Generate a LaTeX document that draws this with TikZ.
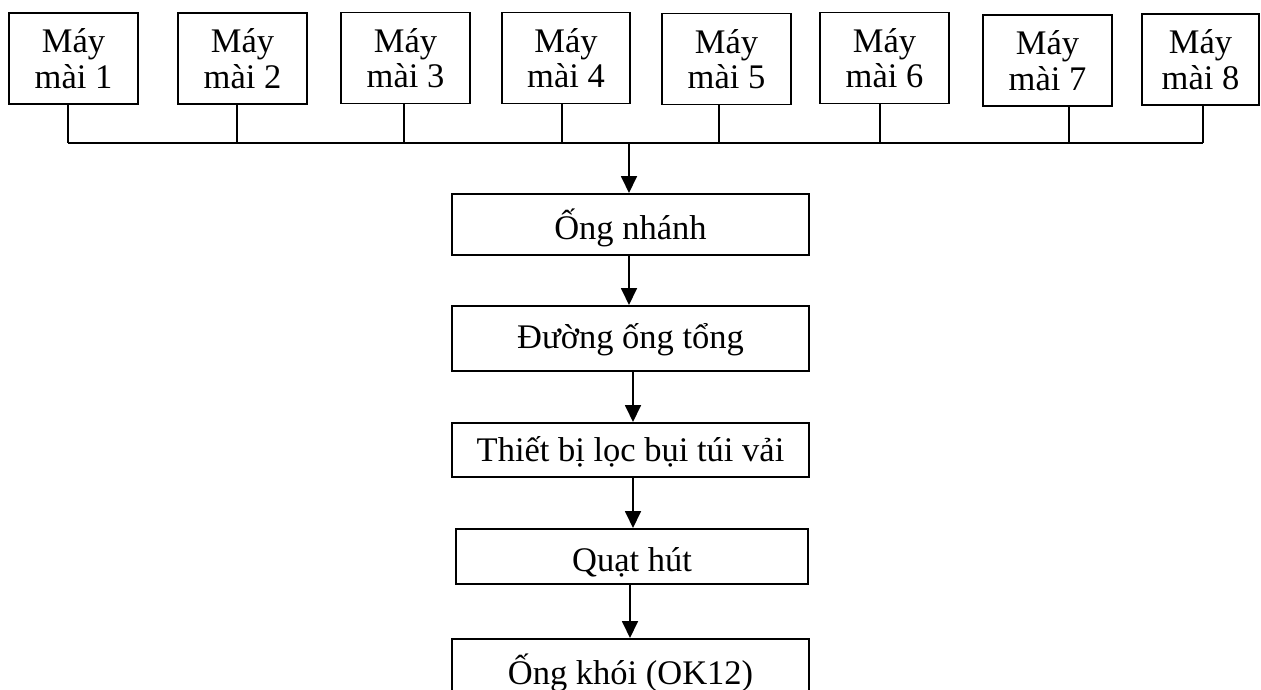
\documentclass[tikz,border=0pt]{standalone}
\usepackage{fontspec}
\setmainfont{Liberation Serif}
\usetikzlibrary{arrows.meta}

\begin{document}
\begin{tikzpicture}[x=1pt,y=-1pt,
  line width=1.8pt,
  font=\fontsize{34.5}{35.5}\selectfont,
  machine/.style={draw, rectangle, align=center, inner sep=0pt,
    minimum width=129pt, minimum height=91pt,
    execute at begin node={\rule{0pt}{33pt}}},
  stage/.style={draw, rectangle, anchor=north, inner xsep=0pt, inner ysep=0pt},
  flow/.style={-{Triangle[length=17pt,width=16pt]}}
]
\useasboundingbox (0,0) rectangle (1261,689);
\clip (0,0) rectangle (1261,689);

% grinding machines in a row
\node[machine] (m1) at (73.5,58.5)  {Máy\\mài 1};
\node[machine] (m2) at (242.5,58.5) {Máy\\mài 2};
\node[machine] (m3) at (405.5,58)   {Máy\\mài 3};
\node[machine, minimum width=128pt] (m4) at (566,58) {Máy\\mài 4};
\node[machine] (m5) at (726.5,59)   {Máy\\mài 5};
\node[machine] (m6) at (884.5,58)   {Máy\\mài 6};
\node[machine] (m7) at (1047.5,60.5){Máy\\mài 7};
\node[machine, minimum width=117pt] (m8) at (1200.5,59.5) {Máy\\mài 8};

% taps on the collecting line
\coordinate (b1) at (68,143);
\coordinate (b2) at (237,143);
\coordinate (b3) at (404,143);
\coordinate (b4) at (562,143);
\coordinate (b5) at (719,143);
\coordinate (b6) at (880,143);
\coordinate (b7) at (1069,143);
\coordinate (b8) at (1203,143);
\coordinate (bm) at (629,143);

\foreach \i in {1,...,8} \draw (m\i.south -| b\i) -- (b\i);
\draw (b1) -- (b8);

% treatment chain
\node[stage, minimum width=357pt, text height=46pt, text depth=15pt] (A) at (630.5,193) {Ống nhánh};
\node[stage, minimum width=357pt, text height=43pt, text depth=22pt] (B) at (630.5,305) {Đường ống tổng};
\node[stage, minimum width=357pt, text height=39pt, text depth=15pt] (C) at (630.5,422) {Thiết bị lọc bụi túi vải};
\node[stage, minimum width=352pt, text height=43pt, text depth=12pt] (D) at (632,528) {Quạt hút};
\node[stage, minimum width=357pt, text height=46pt, text depth=20pt] (E) at (630.5,638) {Ống khói (OK12)};

\draw[flow] (bm) -- (bm |- A.north);
\draw[flow] ([xshift=-1.5pt]A.south) -- ([xshift=-1.5pt]B.north);
\draw[flow] ([xshift=2.5pt]B.south) -- ([xshift=2.5pt]C.north);
\draw[flow] ([xshift=2.5pt]C.south) -- ([xshift=1pt]D.north);
\draw[flow] ([xshift=-2pt]D.south) -- ([xshift=-0.5pt]E.north);
\end{tikzpicture}
\end{document}
